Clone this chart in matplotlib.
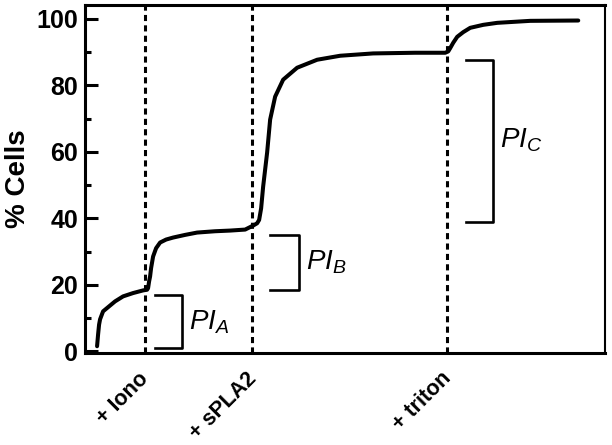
import matplotlib.pyplot as plt
from matplotlib.ticker import MultipleLocator

plt.rcParams['font.family'] = ['Liberation Sans', 'DejaVu Sans']
plt.rcParams['mathtext.fontset'] = 'custom'
plt.rcParams['mathtext.it'] = 'Liberation Sans:italic'
plt.rcParams['mathtext.rm'] = 'Liberation Sans'

# time trace (arbitrary time units) and % cells
time = [12, 13, 14, 15, 18, 22, 30, 38, 48, 58, 62, 63, 64, 65, 66, 68, 71, 75,
        81, 88, 100, 112, 130, 145, 160, 168, 172, 174, 176, 178, 182, 185,
        190, 198, 212, 232, 255, 288, 330, 360, 363, 365, 368, 372,
        378, 385, 398, 412, 445, 493]
cells = [1.5, 5, 8, 9.6, 12, 13, 15, 16.5, 17.5, 18.3, 18.5, 19, 21, 22.5, 25,
         28.5, 31, 32.7, 33.6, 34.2, 35, 35.7, 36.1, 36.3, 36.6, 37.8, 38.5,
         39.5, 43, 49.5, 59.8, 69.7, 76.6, 81.7, 85.3, 87.7, 88.9, 89.6, 89.8,
         89.8, 90.2, 91.2, 92.8, 94.6, 96, 97.3, 98.2, 98.8, 99.4, 99.5]

# additions
add_times = [59.5, 167, 362]
add_labels = ['+ Iono', '+ sPLA2', '+ triton']

# permeabilisation brackets: x left, x right, y low, y high, label
br_x0 = [70, 185, 381]
br_x1 = [97, 214, 408]
br_lo = [0.9, 18.3, 39]
br_hi = [16.8, 35, 87.7]
br_labels = [r'$PI_A$', r'$PI_B$', r'$PI_C$']

fig = plt.figure(figsize=(6.12, 4.45), dpi=100)
ax = fig.add_axes([0.139, 0.207, 0.850, 0.782])

ax.plot(time, cells, color='black', lw=2.9, solid_capstyle='round')

for t in add_times:
    ax.axvline(t, color='black', lw=2.2, linestyle=(0, (2, 1.4)))

for t, lab in zip(add_times, add_labels):
    ax.annotate(lab, xy=(t, 0), xycoords=('data', 'axes fraction'),
                xytext=(6, -11), textcoords='offset points', rotation=45,
                ha='right', va='top', fontsize=15.5, fontweight='bold')

for x0, x1, lo, hi, lab in zip(br_x0, br_x1, br_lo, br_hi, br_labels):
    ax.plot([x0, x1, x1, x0], [hi, hi, lo, lo], color='black', lw=1.9)
    ax.text(x1 + 7, (lo + hi) / 2, lab, fontsize=20, ha='left', va='center')

ax.set_xlim(0, 520)
ax.set_ylim(-0.5, 104.2)
ax.set_xticks([])
ax.yaxis.set_major_locator(MultipleLocator(20))
ax.yaxis.set_minor_locator(MultipleLocator(10))
ax.tick_params(axis='y', which='major', direction='in', length=9, width=2.2,
               labelsize=18, pad=5)
ax.tick_params(axis='y', which='minor', direction='in', length=4.5, width=2.2)
for lab in ax.get_yticklabels():
    lab.set_fontweight('bold')

for side in ['left', 'bottom', 'top']:
    ax.spines[side].set_linewidth(2.2)
ax.spines['right'].set_linewidth(1.5)

ax.set_ylabel('% Cells', fontsize=20, fontweight='bold', labelpad=4)

fig.savefig('out.png', dpi=100)
